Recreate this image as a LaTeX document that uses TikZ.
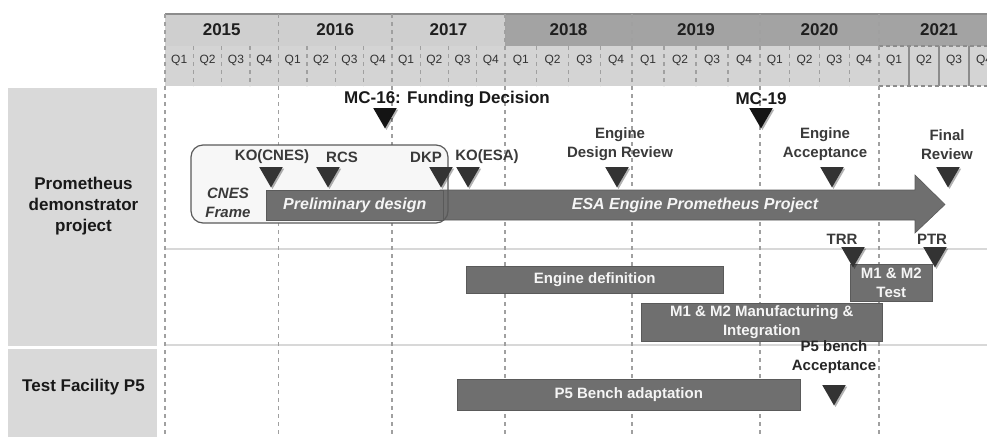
\documentclass[tikz,border=0pt]{standalone}
\usepackage{fontspec}
\setmainfont{Liberation Sans}
\usetikzlibrary{shapes.geometric,shadows}
\definecolor{yearlight}{HTML}{CFCFCF}
\definecolor{yeardark}{HTML}{A3A3A3}
\definecolor{qrow}{HTML}{D4D4D4}
\definecolor{leftcol}{HTML}{D9D9D9}
\definecolor{barfill}{HTML}{6F6F6F}
\definecolor{barline}{HTML}{5A5A5A}
\definecolor{trifill}{HTML}{333333}
\definecolor{gridline}{HTML}{A0A0A0}
\definecolor{hline}{HTML}{D8D8D8}
\definecolor{txt}{HTML}{3A3A3A}
\definecolor{framefill}{HTML}{F7F7F7}
\definecolor{headline}{HTML}{8C8C8C}
\begin{document}
\begin{tikzpicture}[x=1pt,y=-1pt,
  yearlbl/.style={font=\fontsize{17}{20}\selectfont\bfseries, text=black!88, inner sep=0},
  qlbl/.style={font=\fontsize{12}{14}\selectfont, text=black!80, inner sep=0},
  mlbl/.style={font=\fontsize{15}{19}\selectfont\bfseries, text=txt, align=center, inner sep=0},
  mclbl/.style={mlbl, font=\fontsize{17}{20}\selectfont\bfseries, text=black!90},
  leftlbl/.style={font=\fontsize{17}{21}\selectfont\bfseries, text=black!90, align=center, inner sep=0},
  mtri/.style={regular polygon, regular polygon sides=3, shape border rotate=180,
    fill=trifill, minimum size=27pt, inner sep=0, anchor=north,
    drop shadow={shadow xshift=1.5pt, shadow yshift=-1.5pt, opacity=0.3, fill=black}},
  mctri/.style={mtri, fill=black!92},
  bar/.style={fill=barfill, draw=barline, line width=0.6pt, text=white!96!black,
    font=\fontsize{15}{19}\selectfont\bfseries, align=center, inner sep=0, anchor=north west},
  gdash/.style={draw=gridline, line width=1.3pt, dash pattern=on 4pt off 4pt},
  qdash/.style={draw=gridline, line width=1.3pt, dash pattern=on 4pt off 4pt},
]
\useasboundingbox (0,0) rectangle (987,437);
\clip (0,0) rectangle (987,437);

% left column
\fill[leftcol] (8,88) rectangle (157,346);
\fill[leftcol] (8,349) rectangle (157,437);
\node[leftlbl] (prom) at (83.5,206) {Prometheus\\demonstrator\\project};
\node[leftlbl] (p5) at (83.5,387) {Test Facility P5};

% header
\foreach \a/\b/\yr/\col [count=\i] in {165/278.5/2015/yearlight, 278.5/392/2016/yearlight, 392/505/2017/yearlight, 505/632/2018/yeardark, 632/760/2019/yeardark, 760/879/2020/yeardark, 879/999/2021/yeardark} {
  \fill[\col] (\a,14) rectangle (\b,46);
  \fill[qrow] (\a,46) rectangle (\b,86);
  \node[yearlbl] (yr\i) at ({(\a+\b)/2},30) {\yr};
  \foreach \q in {1,...,4} {
    \node[qlbl] (q\i-\q) at ({\a+(\q-0.5)*(\b-\a)/4},60) {Q\q};
  }
}
\foreach \a/\b in {165/278.5, 278.5/392, 392/505, 505/632, 632/760, 760/879} {
  \foreach \q in {1,2,3} {
    \draw[qdash] ({\a+\q*(\b-\a)/4},46) -- ({\a+\q*(\b-\a)/4},86);
  }
}
\draw[headline, line width=1.2pt] (165,14) -- (987,14);
% 2021 forecast box
\draw[headline, line width=1.2pt, dash pattern=on 4pt off 3pt] (879,46) -- (990,46);
\draw[headline, line width=1.2pt, dash pattern=on 4pt off 3pt] (879,86) -- (990,86);
\foreach \x in {909,939,969} { \draw[headline, line width=1.2pt] (\x,46) -- (\x,86); }

% body horizontal lines
\draw[hline, line width=1.5pt] (166,249) -- (987,249);
\draw[hline, line width=1.5pt] (166,345) -- (987,345);

% year divider dashed lines
\foreach \x in {165,278.5,392,505,632,760,879} {
  \draw[gdash] (\x,14) -- (\x,437);
}

% CNES frame fill
\fill[framefill, rounded corners=12pt] (191,145) rectangle (448,223);

% ESA arrow
\filldraw[fill=barfill, draw=barline, line width=0.6pt] (440,190) -- (915,190) -- (915,175) -- (945,204.5) -- (915,233) -- (915,220) -- (440,220) -- cycle;
\node[font=\fontsize{16}{19}\selectfont\bfseries\itshape, text=white!96!black, inner sep=0] (esa) at (695,205) {ESA Engine Prometheus Project};

% preliminary design
\node[bar, minimum width=177pt, minimum height=30pt, font=\fontsize{16}{19}\selectfont\bfseries\itshape] (prelim) at (266,190) {Preliminary design};

% CNES frame border
\draw[barline, line width=1.2pt, rounded corners=12pt] (191,145) rectangle (448,223);
\node[mlbl, font=\fontsize{15}{19}\selectfont\bfseries\itshape] (cnes) at (228,203) {CNES\\Frame};

% other bars
\node[bar, minimum width=257pt, minimum height=27pt] (engdef) at (466,266) {Engine definition};
\node[bar, minimum width=241pt, minimum height=38pt] (manuf) at (641,303) {M1 \& M2 Manufacturing \&\\Integration};
\node[bar, minimum width=82pt, minimum height=37pt] (test) at (850,264) {M1 \& M2\\Test};
\node[bar, minimum width=343pt, minimum height=31pt] (p5bar) at (457,379) {P5 Bench adaptation};

% milestones
\node[mclbl] (mc16) at (447,99) {MC-16: Funding Decision};
\node[mctri] (tmc16) at (385,108) {};
\node[mclbl] (mc19) at (761,99) {MC-19};
\node[mctri] (tmc19) at (761,108) {};

\node[mlbl] (kocnes) at (272,157) {KO(CNES)};
\node[mtri] (tkocnes) at (271,167) {};
\node[mlbl] (rcs) at (342,157) {RCS};
\node[mtri] (trcs) at (328,167) {};
\node[mlbl] (dkp) at (426,157) {DKP};
\node[mtri] (tdkp) at (441,167) {};
\node[mlbl] (koesa) at (487,157) {KO(ESA)};
\node[mtri] (tkoesa) at (468,167) {};

\node[mlbl] (edr) at (620,144.5) {Engine\\Design Review};
\node[mtri] (tedr) at (617,167) {};
\node[mlbl] (eacc) at (825,144.5) {Engine\\Acceptance};
\node[mtri] (teacc) at (832,167) {};
\node[mlbl] (frev) at (947,144.5) {Final\\Review};
\node[mtri] (tfrev) at (948,167) {};

\node[mlbl] (trr) at (842,239) {TRR};
\node[mtri] (ttrr) at (853,247) {};
\node[mlbl] (ptr) at (932,239) {PTR};
\node[mtri] (tptr) at (935,247) {};

\node[mlbl, text=black!85] (p5acc) at (834,357) {P5 bench\\Acceptance};
\node[mtri] (tp5acc) at (834,385) {};
\end{tikzpicture}
\end{document}
